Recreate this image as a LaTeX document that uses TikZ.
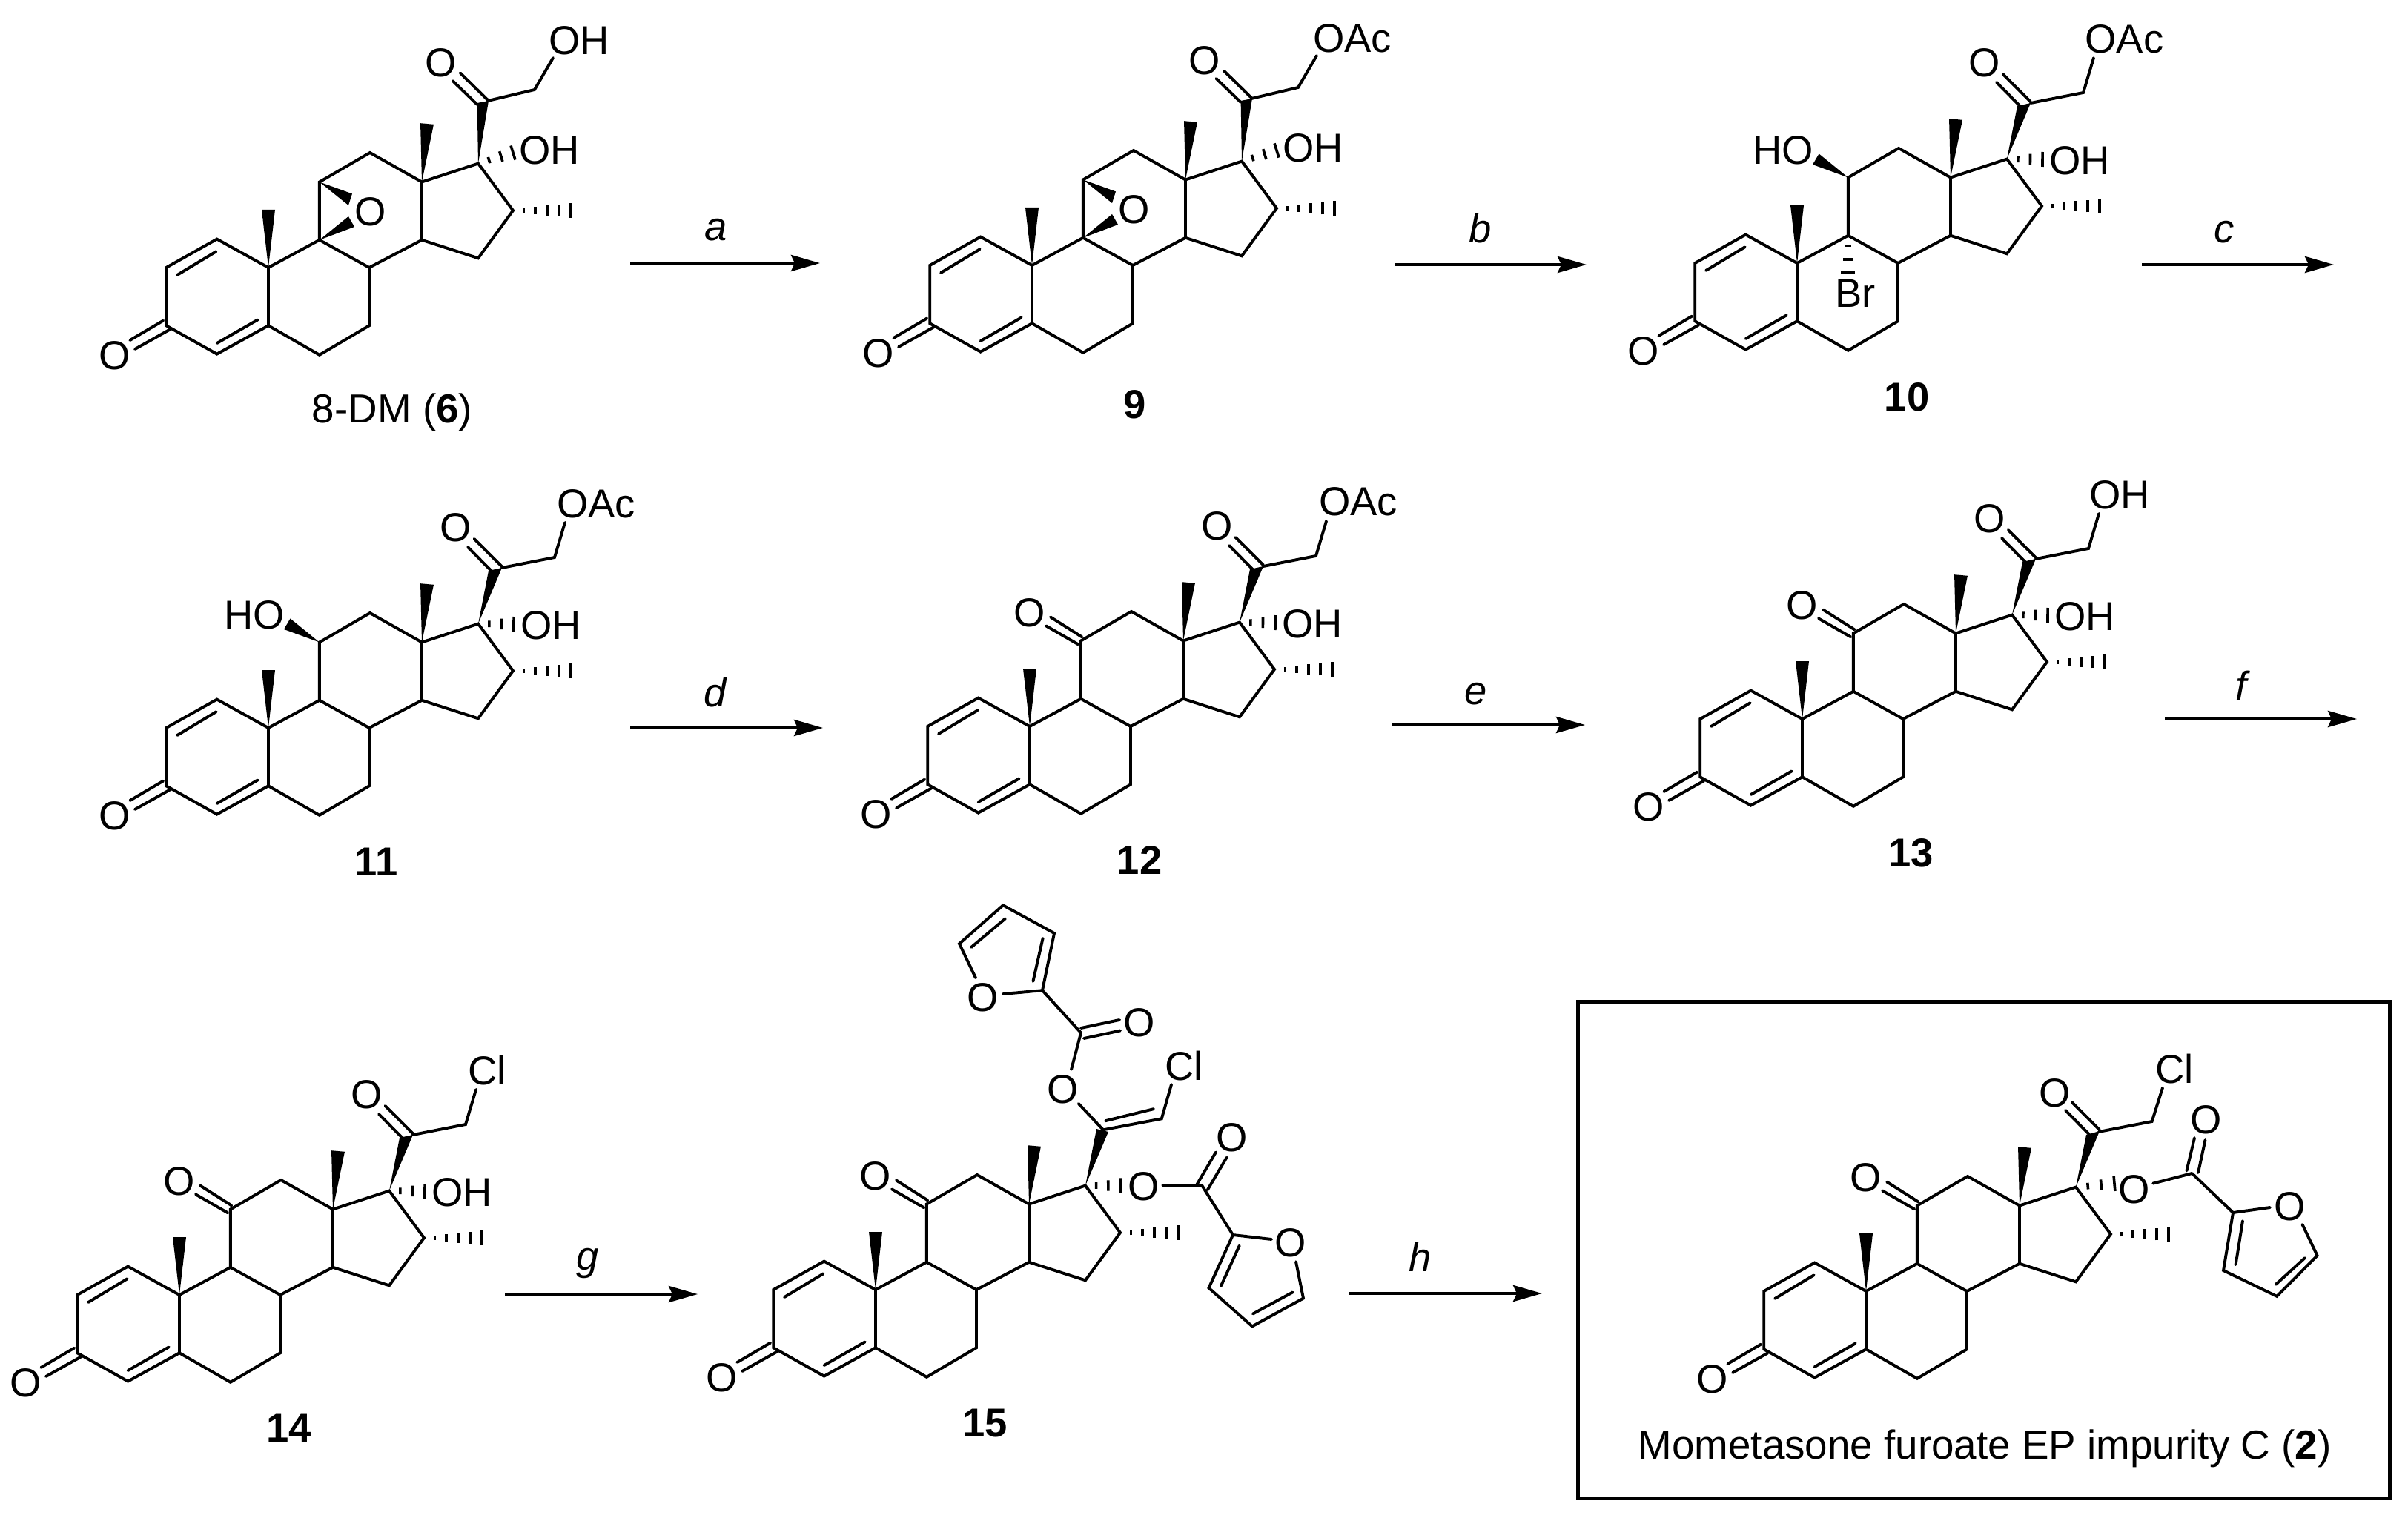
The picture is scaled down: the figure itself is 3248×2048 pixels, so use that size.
\documentclass[tikz,border=0pt]{standalone}
\usepackage{fontspec}
\setmainfont{Liberation Sans}
\usetikzlibrary{calc,arrows.meta}
\tikzset{
  bond/.style={line width=1.95pt,line cap=round,line join=miter,black},
  hashtick/.style={line width=1.8pt,line cap=butt,black},
  atom/.style={font=\fontsize{27.2}{27.2}\selectfont,inner sep=0pt,black},
  numlabel/.style={font=\fontsize{27.2}{27.2}\selectfont\bfseries,inner sep=0pt,black},
  caption/.style={font=\fontsize{27.4}{27.4}\selectfont,inner sep=0pt,anchor=base,black},
  letter/.style={font=\fontsize{27.2}{27.2}\selectfont\itshape,inner sep=0pt,anchor=base,black},
  rxn/.style={line width=2.1pt,black,-{Stealth[length=19.5pt,width=11pt,inset=2.5pt]}},
  framebox/.style={line width=2.5pt,black}
}
\newcommand\hashw[4]{%
  \foreach \i in {1,...,#3}{%
    \pgfmathsetmacro\tt{(\i-0.1)/(#3-0.1)}%
    \pgfmathsetmacro\hl{(1.8+(#4-1.8)*\tt)*0.5}%
    \coordinate (hp) at ($(#1)!\tt!(#2)$);
    \draw[hashtick] ($(hp)!\hl pt!90:(#1)$) -- ($(hp)!\hl pt!-90:(#1)$);
  }}
\newcommand\wedgeb[3]{\fill[black] (#1) -- ($(#2)!#3!90:(#1)$) -- ($(#2)!#3!-90:(#1)$) -- cycle;}
% ----- common steroid skeleton, drawn inside a shifted scope
\newcommand\skeleton[1]{%
  \coordinate (#1c10) at (0,0);
  \coordinate (#1c1) at (-69.4,-38.4);
  \coordinate (#1c2) at (-137.8,0);
  \coordinate (#1c3) at (-137.8,78.3);
  \coordinate (#1c4) at (-69.4,116.6);
  \coordinate (#1c5) at (0,78.3);
  \coordinate (#1c6) at (68.9,117.8);
  \coordinate (#1c7) at (136,78.3);
  \coordinate (#1c8) at (136,0);
  \coordinate (#1c9) at (68.9,-37.2);
  \coordinate (#1c11) at (68.9,-115.5);
  \coordinate (#1c12) at (137,-155);
  \coordinate (#1c13) at (207,-115.5);
  \coordinate (#1c14) at (207,-37.2);
  \coordinate (#1c15) at (283,-12.7);
  \coordinate (#1c16) at (330,-77);
  \coordinate (#1c17) at (283,-140.4);
  \coordinate (#1me18) at (214,-194);
  \coordinate (#1me19) at (0,-78);
  \coordinate (#1me16) at (408,-77);
  \node[atom] (#1o3) at (-207,118.6) {O};
  \draw[bond] (#1c10) -- (#1c1) -- (#1c2) -- (#1c3) -- (#1c4) -- (#1c5) -- (#1c6) -- (#1c7) -- (#1c8) -- (#1c9) -- (#1c10) -- (#1c5);
  \draw[bond] (#1c9) -- (#1c11) -- (#1c12) -- (#1c13) -- (#1c14) -- (#1c8);
  \draw[bond] (#1c14) -- (#1c15) -- (#1c16) -- (#1c17) -- (#1c13);
  \draw[bond] (-70.4,-21.7) -- (-123,10);
  \draw[bond] (-14.3,70.4) -- (-69.4,102);
  \draw[bond] (-141.8,71.6) -- (-186.7,98);
  \draw[bond] (-132.6,83.4) -- (-180,110);
  \wedgeb{#1c10}{#1me19}{4.5pt}
  \wedgeb{#1c13}{#1me18}{4.5pt}
  \hashw{#1c16}{#1me16}{5}{10}
}
% ----- side chain, older drawing (6, 9)
\newcommand\sideA[3]{%
  \coordinate (#1c20) at (296,-225);
  \coordinate (#1c21) at (359,-240);
  \coordinate (#1end) at (384,-283);
  \coordinate (#1h17) at (330,-155);
  \node[atom] (#1o20) at (233,-276) {O};
  \node[atom] (#1oh) at (379,-158) {OH};
  \node[atom] (#1top) at (#2) {#3};
  \fill[black] (#1c17) -- (281.6,-222) -- (297,-225) -- cycle;
  \draw[bond] (#1c20) -- (#1c21) -- (#1end);
  \draw[bond] (296,-226) -- (258.7,-262.6);
  \draw[bond] (281.6,-220) -- (248.5,-252);
  \hashw{#1c17}{#1h17}{3}{10}
}
% ----- side chain, later drawing (10-14)
\newcommand\sideB[3]{%
  \coordinate (#1c20) at (315,-216);
  \coordinate (#1c21) at (386,-230);
  \coordinate (#1end) at (400,-277);
  \coordinate (#1h17) at (331,-140);
  \node[atom] (#1o20) at (253,-270) {O};
  \node[atom] (#1oh) at (381,-138) {OH};
  \node[atom] (#1top) at (#2) {#3};
  \fill[black] (#1c17) -- (297,-212) -- (315,-216) -- cycle;
  \draw[bond] (#1c20) -- (#1c21) -- (#1end);
  \draw[bond] (315,-217.5) -- (277.6,-255);
  \draw[bond] (301,-211.5) -- (269,-244);
  \hashw{#1c17}{#1h17}{3}{10}
}
\newcommand\epoxide[1]{%
  \node[atom] (#1oe) at (138,-75) {O};
  \fill[black] (#1c11) -- (113,-99.6) -- (108,-84) -- cycle;
  \fill[black] (#1c9) -- (108,-69) -- (116,-55) -- cycle;
}
\newcommand\ketoneXI[1]{%
  \node[atom] (#1o11) at (0,-153.4) {O};
  \draw[bond] (70.4,-120.6) -- (28,-147.5);
  \draw[bond] (65.3,-110.7) -- (22,-135.6);
}
\newcommand\hydroxyXI[1]{%
  \node[atom] (#1ho) at (-19,-152.5) {HO};
  \fill[black] (#1c11) -- (29.5,-147.5) -- (21,-133) -- cycle;
}
\begin{document}
\begin{tikzpicture}[x=0.5pt,y=-0.5pt]
\path[use as bounding box,fill=white] (0,0) rectangle (3248,2048);

% 6
\begin{scope}[shift={(362,361)}]
  \skeleton{a}\sideA{a}{419,-306}{OH}\epoxide{a}
\end{scope}
\node[caption] (lab6) at (529,570) {8-DM (\textbf{6})};

% 9
\begin{scope}[shift={(1392,358)}]
  \skeleton{b}\sideA{b}{432,-306}{OAc}\epoxide{b}
\end{scope}
\node[numlabel] (lab9) at (1531,546) {9};

% 10
\begin{scope}[shift={(2424,355)}]
  \skeleton{c}\sideB{c}{441.5,-302}{OAc}\hydroxyXI{c}
  \node[atom] (cbr) at (78.7,41) {Br};
  \fill[black] (64.9,-25.4) rectangle (72.9,-22);
  \fill[black] (61.9,-7) rectangle (75.9,-3.4);
  \fill[black] (59.4,10.8) rectangle (78.4,14.6);
\end{scope}
\node[numlabel] (lab10) at (2572,536) {10};

% 11
\begin{scope}[shift={(362,982)}]
  \skeleton{d}\sideB{d}{442,-302}{OAc}\hydroxyXI{d}
\end{scope}
\node[numlabel] (lab11) at (507.5,1162.5) {11};

% 12
\begin{scope}[shift={(1389,980)}]
  \skeleton{e}\sideB{e}{443,-303}{OAc}\ketoneXI{e}
\end{scope}
\node[numlabel] (lab12) at (1537,1160) {12};

% 13
\begin{scope}[shift={(2431,970)}]
  \skeleton{f}\sideB{f}{428,-302.5}{OH}\ketoneXI{f}
\end{scope}
\node[numlabel] (lab13) at (2577.5,1150.6) {13};

% 14
\begin{scope}[shift={(242,1747)}]
  \skeleton{g}\sideB{g}{415,-303}{Cl}\ketoneXI{g}
\end{scope}
\node[numlabel] (lab14) at (390,1927) {14};

% 15
\begin{scope}[shift={(1181,1740)}]
  \skeleton{h}\ketoneXI{h}
  \coordinate (hc20) at (307,-215.7);
  \coordinate (hch) at (385.8,-230.7);
  \coordinate (hclend) at (399,-276.8);
  \node[atom] (hcl) at (416,-302) {Cl};
  \node[atom] (ho1) at (252.6,-270.5) {O};
  \coordinate (ho1a) at (273.8,-251);
  \coordinate (ho1b) at (264,-297);
  \coordinate (hec) at (277,-346.6);
  \node[atom] (ho2) at (356,-360) {O};
  \fill[black] (hc17) -- (298,-217) -- (314,-213) -- cycle;
  \draw[bond] (hc20) -- (hch) -- (hclend);
  \draw[bond] (310,-227.8) -- (374.9,-243.8);
  \draw[bond] (ho1a) -- (hc20);
  \draw[bond] (ho1b) -- (hec);
  \draw[bond] (277,-353) -- (329,-364);
  \draw[bond] (281,-339) -- (330,-349.5);
  \coordinate (hf2) at (225,-403.8);
  \coordinate (hf3) at (241,-481);
  \coordinate (hf4) at (172,-518.7);
  \coordinate (hf5) at (113,-466.8);
  \coordinate (hf5e) at (135,-420.7);
  \coordinate (hf2e) at (172,-399);
  \node[atom] (hfo) at (145,-394) {O};
  \draw[bond] (hec) -- (hf2) -- (hf3) -- (hf4) -- (hf5) -- (hf5e);
  \draw[bond] (hf2) -- (hf2e);
  \draw[bond] (212.4,-416) -- (225.6,-474);
  \draw[bond] (129,-462) -- (175,-500.7);
  % lower ester
  \coordinate (hh17) at (330,-140.6);
  \hashw{hc17}{hh17}{3}{10}
  \node[atom] (ho3) at (361.7,-139.6) {O};
  \coordinate (ho3e) at (387.5,-141);
  \coordinate (hc2) at (440,-141);
  \node[atom] (ho4) at (480.5,-205) {O};
  \draw[bond] (ho3e) -- (hc2);
  \draw[bond] (433.4,-142) -- (459,-185.6);
  \draw[bond] (447.8,-134.8) -- (473.6,-178.4);
  \coordinate (hg2) at (482,-74);
  \coordinate (hg3) at (449.5,-2.4);
  \coordinate (hg4) at (508,49.4);
  \coordinate (hg5) at (577,11.6);
  \coordinate (hg5e) at (567,-37.8);
  \coordinate (hg2e) at (534,-68);
  \node[atom] (hgo) at (559.7,-63.5) {O};
  \draw[bond] (hc2) -- (hg2) -- (hg3) -- (hg4) -- (hg5) -- (hg5e);
  \draw[bond] (hg2) -- (hg2e);
  \draw[bond] (490.8,-59.6) -- (466,-5.3);
  \draw[bond] (509,32.5) -- (562.6,3.4);
\end{scope}
\node[numlabel] (lab15) at (1328.5,1920) {15};

% 2 (boxed)
\begin{scope}[shift={(2517,1742)}]
  \skeleton{k}\ketoneXI{k}
  \coordinate (kc20) at (313.7,-215);
  \coordinate (kc21) at (385.6,-229);
  \coordinate (kclend) at (400,-274.5);
  \node[atom] (kcl) at (415.8,-300) {Cl};
  \node[atom] (ko20) at (254.7,-267.7) {O};
  \fill[black] (kc17) -- (297,-211) -- (315,-216) -- cycle;
  \draw[bond] (kc20) -- (kc21) -- (kclend);
  \draw[bond] (315,-217.5) -- (277.6,-255);
  \draw[bond] (301,-211.5) -- (269,-244);
  \coordinate (kh17) at (335,-145);
  \hashw{kc17}{kh17}{3}{10}
  \node[atom] (ko3) at (362,-137) {O};
  \coordinate (ko3e) at (387,-145.4);
  \coordinate (kc2) at (439.6,-159);
  \node[atom] (ko4) at (459,-231) {O};
  \draw[bond] (ko3e) -- (kc2);
  \draw[bond] (432.4,-162.5) -- (443,-206.8);
  \draw[bond] (448,-160) -- (457.5,-204);
  \coordinate (kf2) at (495,-106);
  \coordinate (kf3) at (482,-28);
  \coordinate (kf4) at (554,6.8);
  \coordinate (kf5) at (608.6,-48);
  \coordinate (kf5e) at (588.5,-90);
  \coordinate (kf2e) at (545,-113);
  \node[atom] (kfo) at (572,-114) {O};
  \draw[bond] (kc2) -- (kf2) -- (kf3) -- (kf4) -- (kf5) -- (kf5e);
  \draw[bond] (kf2) -- (kf2e);
  \draw[bond] (508,-95) -- (498.6,-36);
  \draw[bond] (552.5,-9) -- (592,-45);
\end{scope}
\node[caption] (lab2) at (2677,1968) {Mometasone furoate EP impurity C (\textbf{2})};
\coordinate (boxa) at (2128.5,1351.5);
\coordinate (boxb) at (3223.5,2021.5);
\draw[framebox] (boxa) rectangle (boxb);

% arrows
\coordinate (a1) at (850,355); \coordinate (a2) at (1106,355);
\coordinate (b1) at (1882,357); \coordinate (b2) at (2140,357);
\coordinate (c1) at (2889,357); \coordinate (c2) at (3148,357);
\coordinate (d1) at (850,982); \coordinate (d2) at (1110,982);
\coordinate (e1) at (1878,978); \coordinate (e2) at (2138,978);
\coordinate (f1) at (2920,970); \coordinate (f2) at (3179,970);
\coordinate (g1) at (681,1746); \coordinate (g2) at (941,1746);
\coordinate (h1) at (1820,1745); \coordinate (h2) at (2080,1745);
\draw[rxn] (a1) -- (a2);
\draw[rxn] (b1) -- (b2);
\draw[rxn] (c1) -- (c2);
\draw[rxn] (d1) -- (d2);
\draw[rxn] (e1) -- (e2);
\draw[rxn] (f1) -- (f2);
\draw[rxn] (g1) -- (g2);
\draw[rxn] (h1) -- (h2);
\node[letter] (la) at (966,325) {a};
\node[letter] (lb) at (1997,328) {b};
\node[letter] (lc) at (3000,328) {c};
\node[letter] (ld) at (965,953) {d};
\node[letter] (le) at (1991,950) {e};
\node[letter] (lf) at (3023,944) {f};
\node[letter] (lg) at (793,1713) {g};
\node[letter] (lh) at (1916,1715) {h};
\end{tikzpicture}
\end{document}
